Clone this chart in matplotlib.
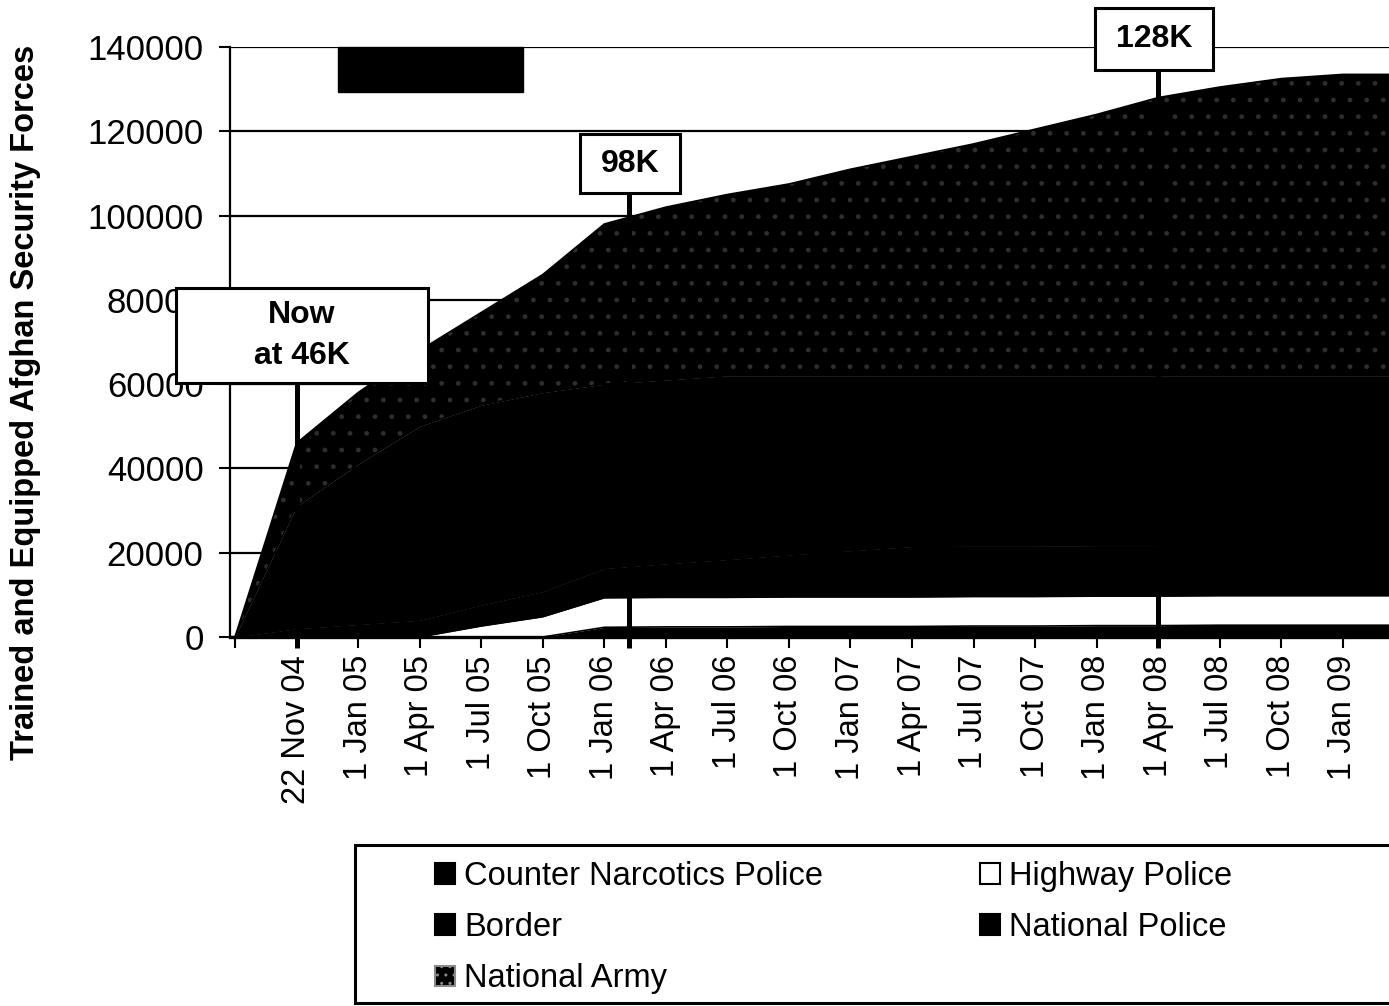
import matplotlib
matplotlib.use("Agg")
import matplotlib.pyplot as plt
import numpy as np
from matplotlib.patches import Rectangle, Patch
from matplotlib.transforms import IdentityTransform

plt.rcParams['font.family'] = ['Liberation Sans', 'DejaVu Sans']
plt.rcParams['hatch.linewidth'] = 1.0

# ---- data -------------------------------------------------------------
categories = ['', '22 Nov 04', '1 Jan 05', '1 Apr 05', '1 Jul 05', '1 Oct 05',
              '1 Jan 06', '1 Apr 06', '1 Jul 06', '1 Oct 06', '1 Jan 07',
              '1 Apr 07', '1 Jul 07', '1 Oct 07', '1 Jan 08', '1 Apr 08',
              '1 Jul 08', '1 Oct 08', '1 Jan 09', '1 Apr 09']

counter_narcotics = [0, 0, 0, 0, 0, 0, 2300, 2400, 2400, 2500, 2500, 2500,
                     2600, 2600, 2700, 2700, 2800, 2800, 2800, 2800]
highway_police = [0, 0, 0, 0, 2600, 4800, 7000, 7000, 7000, 7000, 7000, 7000,
                  7000, 7000, 7000, 7000, 7000, 7000, 7000, 7000]
border = [0, 2000, 3000, 4000, 5000, 6000, 7000, 8000, 9000, 10000, 11000,
          12000, 12000, 12000, 12000, 12000, 12000, 12000, 12000, 12000]
national_police = [0, 29000, 38000, 46000, 47400, 47200, 43700, 43600, 43600,
                   42500, 41500, 40500, 40400, 40400, 40300, 40300, 40200,
                   40200, 40200, 40200]
national_army = [0, 15000, 17000, 18000, 22000, 28000, 38000, 41000, 43000,
                 45500, 49000, 52000, 55000, 58500, 62000, 66000, 68500,
                 70500, 71500, 71500]

series_names = ['Counter Narcotics Police', 'Highway Police', 'Border',
                'National Police', 'National Army']

y_ticks = [0, 20000, 40000, 60000, 80000, 100000, 120000, 140000]

# milestone call-outs: label, category position
milestone_labels = ['Now\nat 46K', '98K', '128K']
milestone_pos = [1, 6.4, 15]

# ---- figure / axes ----------------------------------------------------
W, H = 1389, 1006
fig = plt.figure(figsize=(W / 100, H / 100), dpi=100)
ax_left, ax_right, ax_top, ax_bottom = 230, 1389, 47, 637
ax = fig.add_axes([ax_left / W, 1 - ax_bottom / H,
                   (ax_right - ax_left) / W, (ax_bottom - ax_top) / H])

x = np.arange(len(categories))
layers = [counter_narcotics, highway_police, border, national_police, national_army]
faces = ['black', 'white', 'black', 'black', 'black']
hatch_cols = ['black', 'black', 'black', 'black', '#2e2e2e']
hatches = [None, None, None, None, '.']

base = np.zeros(len(x))
handles = {}
for vals, name, fc, hc, h in zip(layers, series_names, faces, hatch_cols, hatches):
    top = base + np.asarray(vals, dtype=float)
    ax.fill_between(x, base, top, facecolor=fc, edgecolor=hc, hatch=h,
                    linewidth=0, zorder=2)
    ax.plot(x, top, color='black', lw=1.2, zorder=2.5, solid_joinstyle='miter')
    handles[name] = Patch(facecolor=fc, edgecolor='black' if h is None else '#8a8a8a',
                          hatch=None if h is None else '..', linewidth=1.5)
    base = top

# ---- axes styling -----------------------------------------------------
ax.set_axisbelow(True)
ax.yaxis.grid(True, color='black', lw=1.6)
ax.xaxis.grid(False)
ax.set_yticks(y_ticks)
ax.set_yticklabels([str(v) for v in y_ticks], fontsize=25)
ax.set_xticks(x)
ax.set_xticklabels(categories, rotation=90, fontsize=23.5, va='top')
ax.tick_params(axis='y', length=8, width=1.5, pad=11, direction='out')
ax.tick_params(axis='x', length=8, width=1.5, pad=5, direction='out')
for s in ['top', 'right']:
    ax.spines[s].set_visible(False)
ax.spines['left'].set_linewidth(1.6)
ax.spines['bottom'].set_linewidth(2.4)
ax.set_facecolor('white')

# view limits (set after the ticks so they are not widened)
x0_px, step_px = 235, 61.55
ax.set_xlim((ax_left - x0_px) / step_px, (ax_right - x0_px) / step_px)
ax.set_ylim(0, 140000)

fig.text(26 / W, 1 - 402 / H, 'Trained and Equipped Afghan Security Forces',
         rotation=90, ha='center', va='center', fontsize=23.5, fontweight='bold')

# ---- milestone call-outs ---------------------------------------------
ident = IdentityTransform()
boxes_px = [(176, 288, 428, 383), (580, 134, 680, 193), (1095, 8, 1213, 70)]
inv = ax.transData.inverted()
for label, pos, (bx0, by0, bx1, by1) in zip(milestone_labels, milestone_pos, boxes_px):
    box_bottom_val = inv.transform((0, H - by1))[1]
    ax.plot([pos, pos], [-2500, box_bottom_val], color='black', lw=3.6,
            zorder=4, clip_on=False, solid_capstyle='butt')
    fig.patches.append(Rectangle((bx0, H - by1), bx1 - bx0, by1 - by0,
                                 transform=ident, facecolor='white',
                                 edgecolor='black', lw=2.2, zorder=5))
    fig.text((bx0 + bx1) / 2 / W, 1 - (by0 + by1) / 2 / H, label,
             ha='center', va='center', fontsize=23, fontweight='bold',
             linespacing=1.45, zorder=6)

# dark title block
fig.patches.append(Rectangle((338, H - 92), 185, 45, transform=ident,
                             facecolor='black', edgecolor='black', zorder=5))

# ---- legend -----------------------------------------------------------
fig.patches.append(Rectangle((355, H - 1003), 1100, 158, transform=ident,
                             facecolor='white', edgecolor='black', lw=2.2, zorder=1))
order = ['Counter Narcotics Police', 'Border', 'National Army',
         'Highway Police', 'National Police']
leg = fig.legend([handles[n] for n in order], order, ncol=2,
                 loc='upper left', bbox_to_anchor=(435 / W, 1 - 861 / H),
                 frameon=False, fontsize=23.5, handlelength=0.6, handleheight=0.6,
                 handletextpad=0.3, columnspacing=4.8, labelspacing=0.62,
                 borderpad=0, borderaxespad=0)

fig.savefig('out.png', dpi=100, facecolor='white')
